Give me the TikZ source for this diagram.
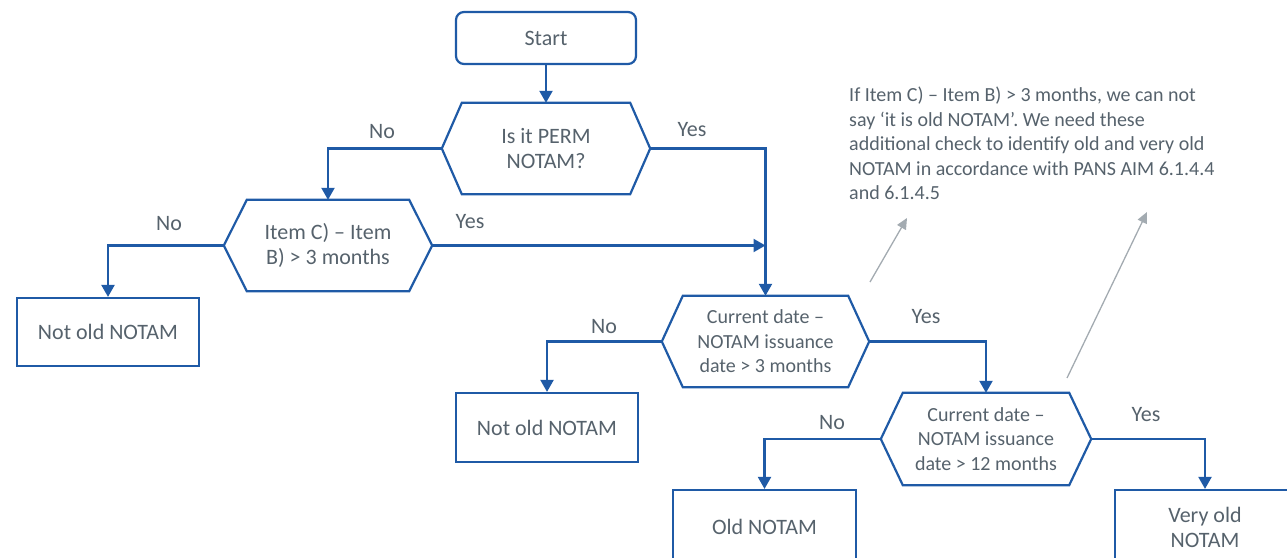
\documentclass[tikz,border=0pt]{standalone}
\usepackage{fontspec}
\setmainfont{Carlito}
\usetikzlibrary{arrows.meta}
\definecolor{nblue}{HTML}{1F5AA6}
\definecolor{ntext}{HTML}{56626C}
\definecolor{ngray}{HTML}{A3ABB1}
\newcommand\hexoutline[2]{\draw[hexline] (#1.west) -- ([xshift=#2]#1.north west) -- ([xshift=-#2]#1.north east) -- (#1.east) -- ([xshift=-#2]#1.south east) -- ([xshift=#2]#1.south west) -- cycle;}
\begin{document}
\begin{tikzpicture}[x=1pt,y=-1pt,
  big/.style={font=\fontsize{22}{25}\selectfont},
  small/.style={font=\fontsize{20}{24.5}\selectfont},
  box/.style={draw=nblue, line width=2.2pt, text=ntext, big, align=center, inner sep=0pt},
  startbox/.style={box, rounded corners=8pt},
  hexnode/.style={text=ntext, align=center, inner sep=0pt},
  hexline/.style={draw=nblue, line width=2.2pt, line join=miter},
  arr/.style={draw=nblue, line width=2.2pt, -{Triangle[width=13pt,length=12pt]}},
  lbl/.style={text=ntext, big, inner sep=0pt},
  note/.style={text=ntext, small, align=left, inner sep=0pt},
  garr/.style={draw=ngray, line width=1.3pt, -{Triangle[width=10pt,length=11pt]}}]
\path[use as bounding box, clip] (0,0) rectangle (1287,557);

% boxes
\node[startbox, minimum width=180pt, minimum height=52pt] (start) at (546,38) {Start};
\node[hexnode, big, minimum width=208pt, minimum height=91pt] (h1) at (546,148.5) {Is it PERM\\NOTAM?};
\hexoutline{h1}{20}
\node[hexnode, big, minimum width=208pt, minimum height=91pt] (h2) at (328,245.5) {Item C) – Item\\B) > 3 months};
\hexoutline{h2}{23}
\node[hexnode, small, minimum width=207pt, minimum height=91pt] (h3) at (765.5,341.5) {Current date –\\NOTAM issuance\\date > 3 months};
\hexoutline{h3}{21}
\node[hexnode, small, minimum width=210pt, minimum height=92pt] (h4) at (986,439) {Current date –\\NOTAM issuance\\date > 12 months};
\hexoutline{h4}{22}
\node[box, minimum width=182pt, minimum height=68pt] (n1) at (108,332) {Not old NOTAM};
\node[box, minimum width=182pt, minimum height=69pt] (n2) at (547,427.5) {Not old NOTAM};
\node[box, minimum width=183pt, minimum height=74pt] (old) at (764.5,527) {Old NOTAM};
\node[box, minimum width=180pt, minimum height=74pt] (vold) at (1205,527) {Very old\\NOTAM};

% connectors
\draw[arr] (start.south) -- (start.south |- h1.north);
\draw[arr] (h1.west) -| (h2.north);
\draw[arr] (h1.east) -| (h3.north);
\draw[arr] (h2.west) -| (n1.north);
\draw[arr] (h2.east) -- (h2.east -| h3.north);
\draw[arr] (h3.west) -| (n2.north);
\draw[arr] (h3.east) -| (h4.north);
\draw[arr] (h4.west) -| (old.north);
\draw[arr] (h4.east) -| (vold.north);

% labels
\node[lbl] (l1) at (382,132) {No};
\node[lbl] (l2) at (692,130) {Yes};
\node[lbl] (l3) at (169,224) {No};
\node[lbl] (l4) at (470,222) {Yes};
\node[lbl] (l5) at (604,327) {No};
\node[lbl] (l6) at (926,317) {Yes};
\node[lbl] (l7) at (832,423) {No};
\node[lbl] (l8) at (1146,415) {Yes};

% note
\node[note, anchor=north west] (note) at (849,87) {If Item C) – Item B) > 3 months, we can not\\say ‘it is old NOTAM’. We need these\\additional check to identify old and very old\\NOTAM in accordance with PANS AIM 6.1.4.4\\and 6.1.4.5};
\coordinate (g1s) at (870,282);
\coordinate (g1e) at (907,218);
\coordinate (g2s) at (1067,378);
\coordinate (g2e) at (1147,212);
\draw[garr] (g1s) -- (g1e);
\draw[garr] (g2s) -- (g2e);
\end{tikzpicture}
\end{document}
